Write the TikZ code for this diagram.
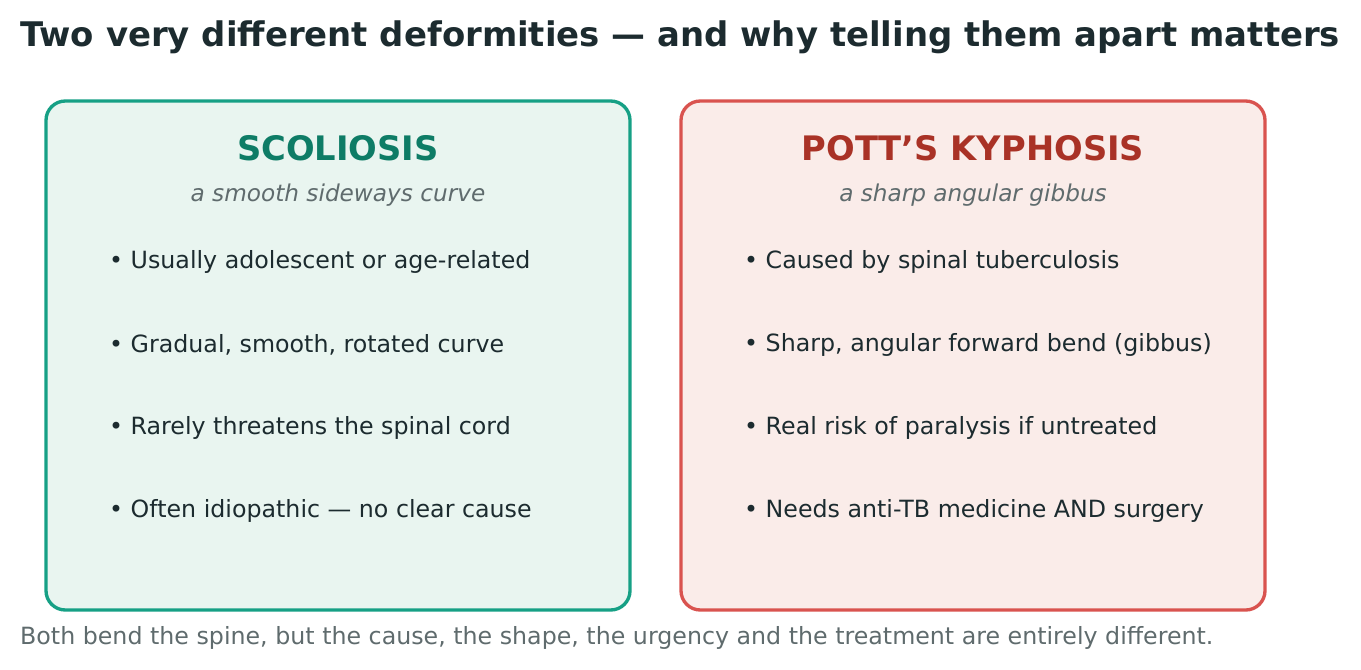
\documentclass[tikz,border=0pt]{standalone}
\usepackage{fontspec}
\setmainfont{DejaVu Sans}
\usetikzlibrary{positioning}
\definecolor{ink}{HTML}{1C2B2F}
\definecolor{muted}{HTML}{5F6B6D}
\definecolor{tealline}{HTML}{16A085}
\definecolor{tealfill}{HTML}{E9F5F0}
\definecolor{tealtext}{HTML}{0E7C66}
\definecolor{redline}{HTML}{D9534F}
\definecolor{redfill}{HTML}{FAECE9}
\definecolor{redtext}{HTML}{A93226}
\tikzset{
  panel/.style={rounded corners=11pt,line width=1.9pt},
  head/.style={font=\fontsize{19.2}{22}\selectfont\bfseries},
  sub/.style={text=muted,font=\fontsize{13.2}{15}\selectfont\itshape},
  item/.style={anchor=west,text=ink,font=\fontsize{13.5}{16}\selectfont},
}
\begin{document}
\begin{tikzpicture}[x=0.02cm,y=-0.02cm]
\useasboundingbox (0,0) rectangle (1361,669);

\node[anchor=west,text=ink,font=\fontsize{19.3}{22}\selectfont\bfseries] (title) at (14,37) {Two very different deformities — and why telling them apart matters};

\draw[panel,draw=tealline,fill=tealfill] (46,101) rectangle (630,610);
\draw[panel,draw=redline,fill=redfill] (681,101) rectangle (1265,610);

\node[head,text=tealtext] (scol) at (338,148) {SCOLIOSIS};
\node[sub] (scolsub) at (338,195) {a smooth sideways curve};
\node[item] (s1) at (103,262) {• Usually adolescent or age-related};
\node[item] (s2) at (103,345) {• Gradual, smooth, rotated curve};
\node[item] (s3) at (103,428) {• Rarely threatens the spinal cord};
\node[item] (s4) at (103,511) {• Often idiopathic — no clear cause};

\node[head,text=redtext] (pott) at (973,148) {POTT’S KYPHOSIS};
\node[sub] (pottsub) at (973,195) {a sharp angular gibbus};
\node[item] (p1) at (738,262) {• Caused by spinal tuberculosis};
\node[item] (p2) at (738,345) {• Sharp, angular forward bend (gibbus)};
\node[item] (p3) at (738,428) {• Real risk of paralysis if untreated};
\node[item] (p4) at (738,511) {• Needs anti-TB medicine AND surgery};

\node[anchor=west,text=muted,font=\fontsize{13.5}{15}\selectfont] (note) at (14,638) {Both bend the spine, but the cause, the shape, the urgency and the treatment are entirely different.};
\end{tikzpicture}
\end{document}
